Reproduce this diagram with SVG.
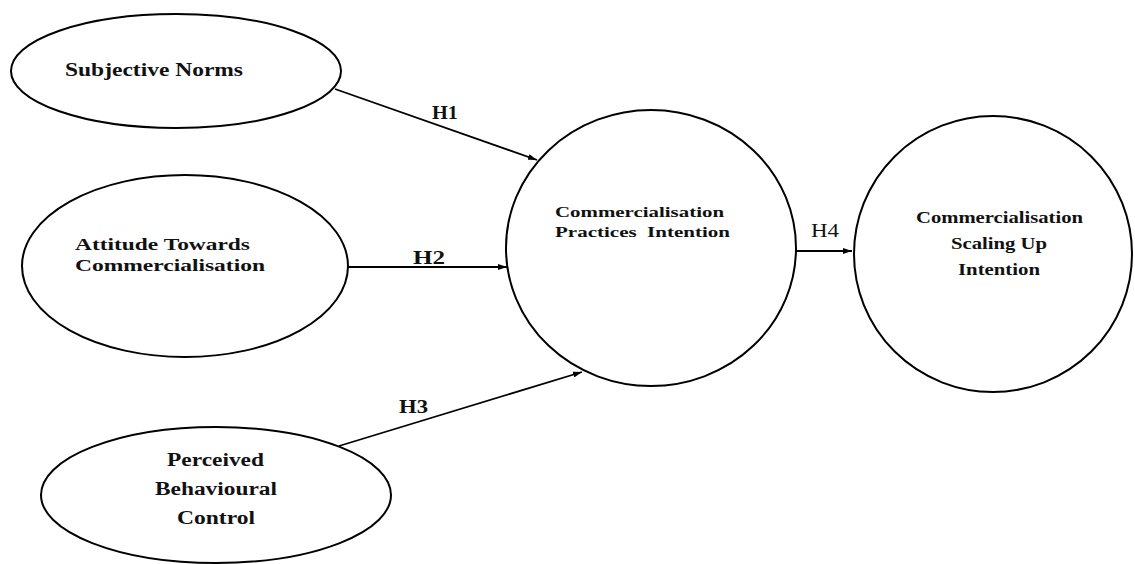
<svg xmlns="http://www.w3.org/2000/svg" width="1135" height="564" viewBox="0 0 1135 564">
<style>
.node{fill:#fff;stroke:#000;stroke-width:2}
.lbl{font-family:"Liberation Serif","Times New Roman",serif;font-weight:bold;fill:#111}
.edge{stroke:#000;stroke-width:1.8;fill:none}
.hb{font-family:"Liberation Serif","Times New Roman",serif;font-weight:bold;font-size:18px;fill:#111}
.hr{font-family:"Liberation Serif","Times New Roman",serif;font-size:18px;fill:#111}
</style>
<defs>
<marker id="arr" markerUnits="userSpaceOnUse" markerWidth="9" markerHeight="6" refX="9" refY="3" orient="auto">
<path d="M0,0 L9,3 L0,6 z" fill="#000"/>
</marker>
</defs>
<rect width="1135" height="564" fill="#fff"/>
<g id="sn">
<ellipse class="node" cx="176" cy="71" rx="165" ry="57"/>
<text class="lbl" font-size="18" x="65" y="76" textLength="178" lengthAdjust="spacingAndGlyphs">Subjective Norms</text>
</g>
<g id="atc">
<ellipse class="node" cx="185" cy="266" rx="163" ry="91"/>
<text class="lbl" font-size="17" x="75" y="250" textLength="175" lengthAdjust="spacingAndGlyphs">Attitude Towards</text>
<text class="lbl" font-size="17" x="75" y="271" textLength="190" lengthAdjust="spacingAndGlyphs">Commercialisation</text>
</g>
<g id="pbc">
<ellipse class="node" cx="216" cy="495" rx="175" ry="68"/>
<text class="lbl" font-size="18" x="167" y="466" textLength="97" lengthAdjust="spacingAndGlyphs">Perceived</text>
<text class="lbl" font-size="18" x="155" y="495" textLength="122" lengthAdjust="spacingAndGlyphs">Behavioural</text>
<text class="lbl" font-size="18" x="177" y="524" textLength="78" lengthAdjust="spacingAndGlyphs">Control</text>
</g>
<g id="cpi">
<ellipse class="node" cx="651" cy="248" rx="145" ry="138"/>
<text class="lbl" font-size="15" x="555" y="217" textLength="169" lengthAdjust="spacingAndGlyphs">Commercialisation</text>
<text class="lbl" font-size="15" x="555" y="237" textLength="175" lengthAdjust="spacingAndGlyphs" xml:space="preserve">Practices  Intention</text>
</g>
<g id="csui">
<ellipse class="node" cx="993" cy="254" rx="139" ry="138"/>
<text class="lbl" font-size="16" x="916" y="223" textLength="167" lengthAdjust="spacingAndGlyphs">Commercialisation</text>
<text class="lbl" font-size="16" x="951" y="249" textLength="96" lengthAdjust="spacingAndGlyphs">Scaling Up</text>
<text class="lbl" font-size="16" x="958" y="275" textLength="82" lengthAdjust="spacingAndGlyphs">Intention</text>
</g>
<g id="connectors">
<line class="edge" x1="335" y1="89" x2="537" y2="160" marker-end="url(#arr)"/>
<line class="edge" x1="348" y1="267" x2="507" y2="267" marker-end="url(#arr)"/>
<line class="edge" x1="339" y1="446" x2="582" y2="372" marker-end="url(#arr)"/>
<line class="edge" x1="796" y1="251" x2="852" y2="251" marker-end="url(#arr)"/>
<text class="hb" x="432" y="119" textLength="26" lengthAdjust="spacingAndGlyphs">H1</text>
<text class="hb" x="413" y="264" textLength="32" lengthAdjust="spacingAndGlyphs">H2</text>
<text class="hb" x="399" y="413" textLength="29" lengthAdjust="spacingAndGlyphs">H3</text>
<text class="hr" x="811" y="237" textLength="28" lengthAdjust="spacingAndGlyphs">H4</text>
</g>
</svg>
